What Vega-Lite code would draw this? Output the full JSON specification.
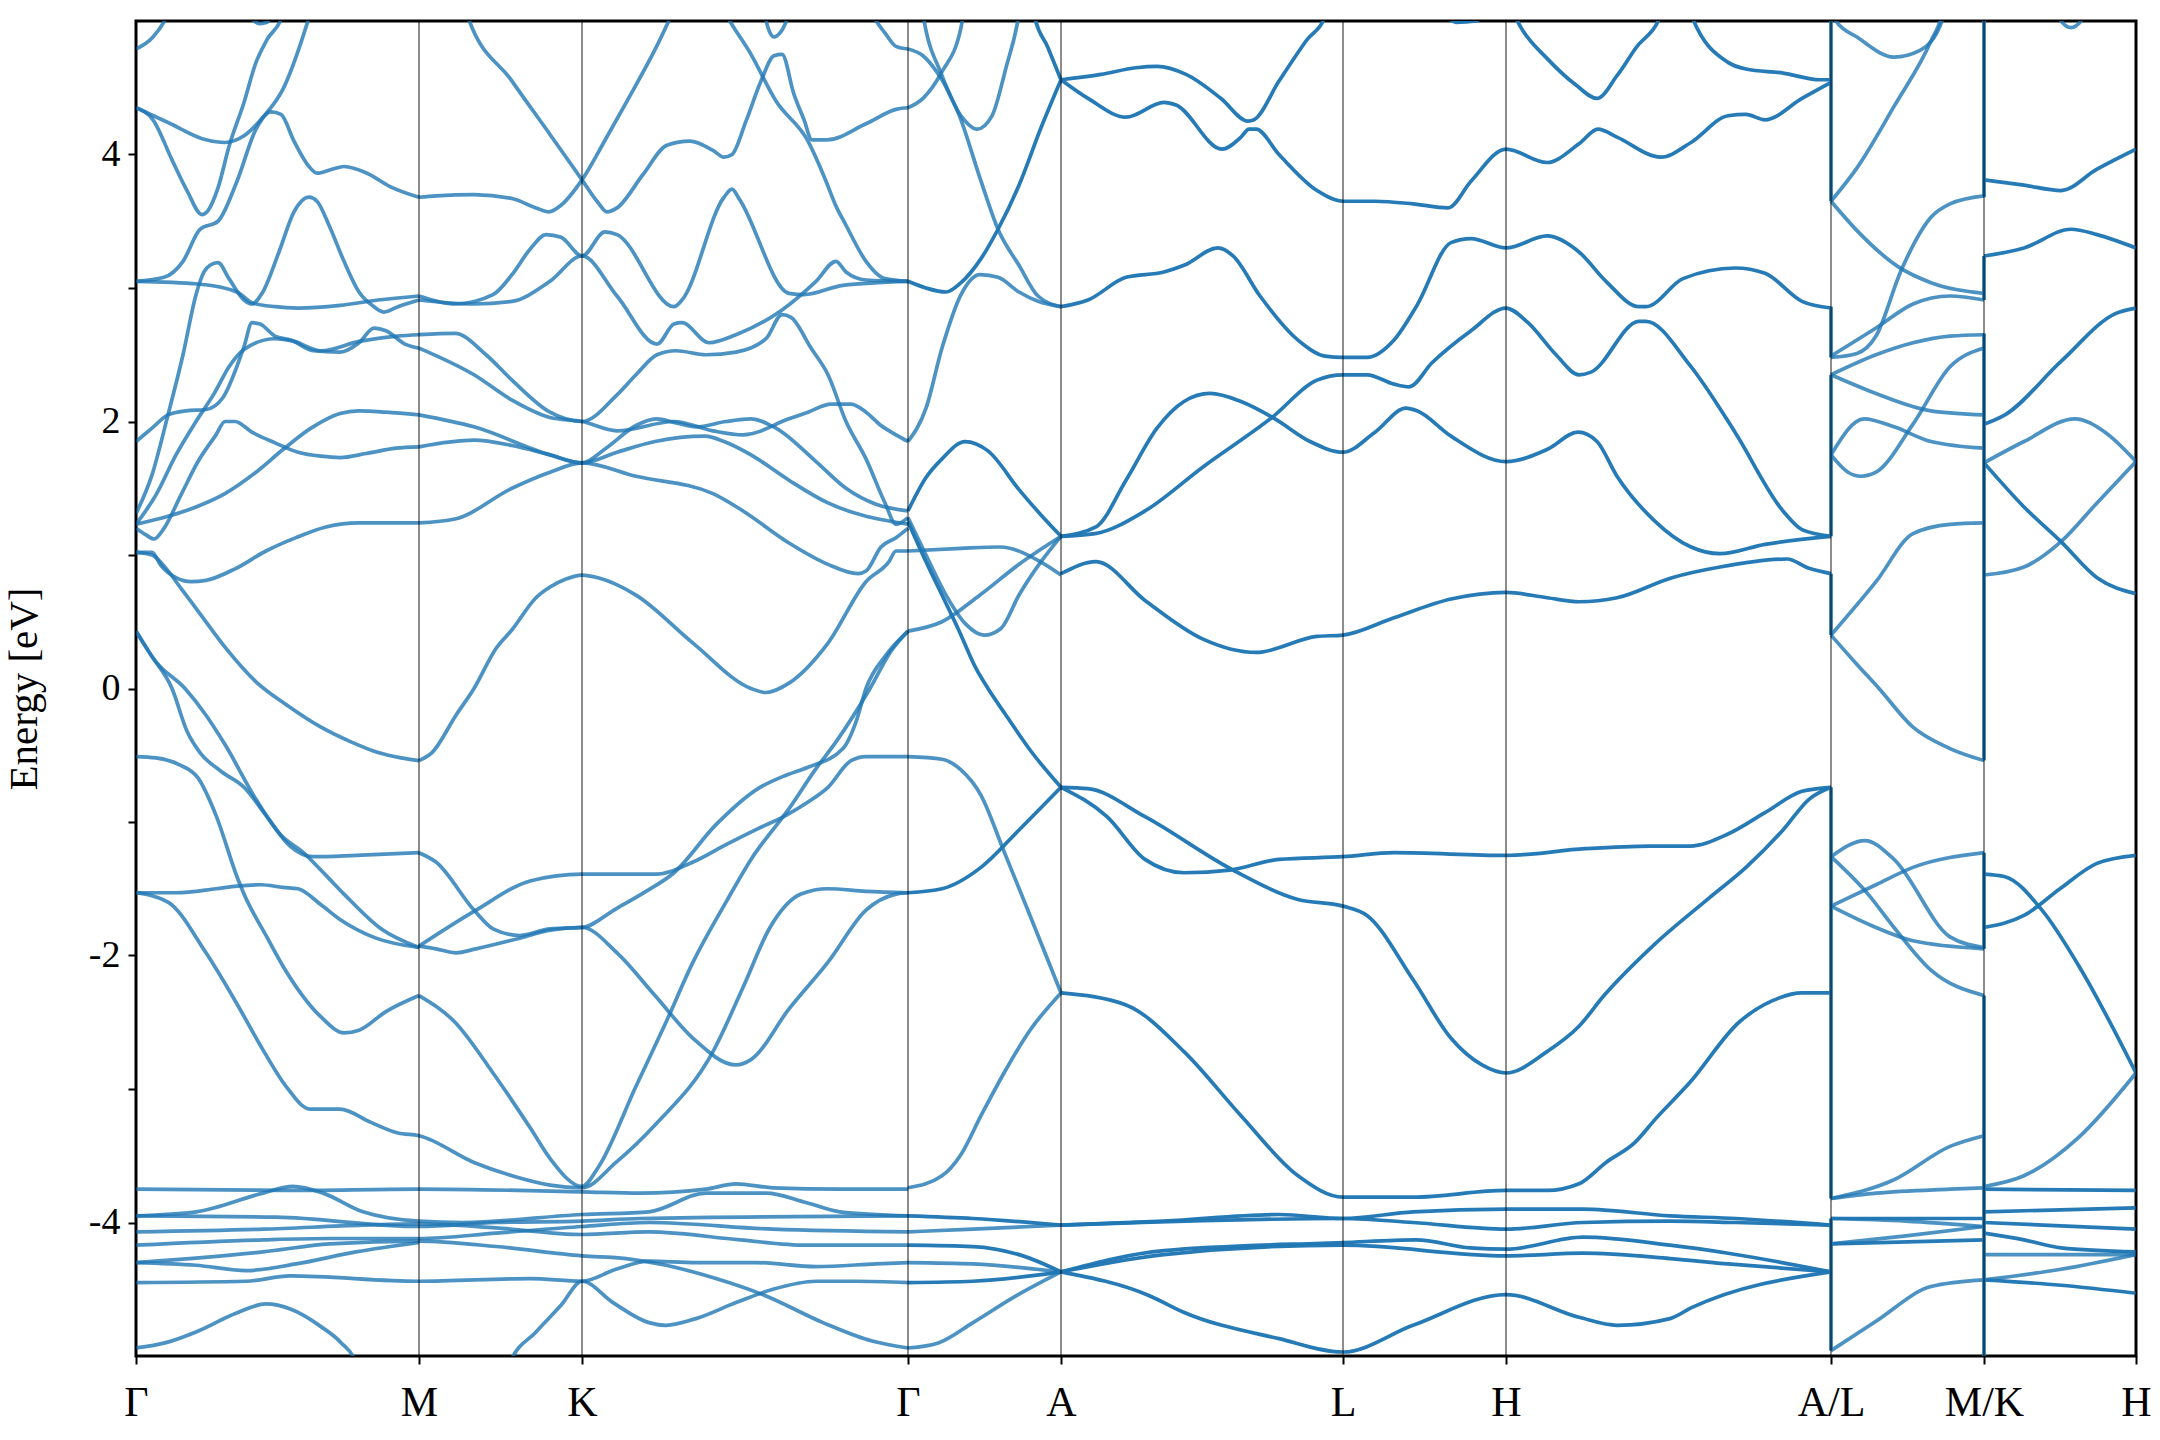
{
"$schema":"https://vega.github.io/schema/vega-lite/v6.json",
"width":2000,"height":1335,
"autosize":{"type":"none"},
"padding":{"left":136,"top":21,"right":24,"bottom":84},
"config":{"view":{"stroke":"black","strokeWidth":3},"font":"Liberation Serif"},
"datasets":{
"kp":[{"x":0},{"x":283},{"x":446},{"x":772},{"x":925},{"x":1207},{"x":1370},{"x":1695},{"x":1848},{"x":2000}],
"jumps":[
{"x":1695,"y":5.2,"y2":3.65},{"x":1695,"y":2.86,"y2":2.48},{"x":1695,"y":2.35,"y2":1.14},{"x":1695,"y":0.86,"y2":0.40},{"x":1695,"y":-0.74,"y2":-3.82},{"x":1695,"y":-3.97,"y2":-4.96},
{"x":1848,"y":5.2,"y2":3.68},{"x":1848,"y":3.24,"y2":2.91},{"x":1848,"y":2.66,"y2":-0.54},{"x":1848,"y":-1.23,"y2":-1.95},{"x":1848,"y":-2.30,"y2":-5.2}],
"bands":[
{"s":"a1","d":1,"x":0,"y":4.79},{"s":"a1","d":1,"x":17,"y":4.88},{"s":"a1","d":1,"x":32,"y":5.05},{"s":"a1","d":1,"x":40,"y":5.2},
{"s":"a2","d":1,"x":0,"y":4.35},{"s":"a2","d":1,"x":17,"y":4.26},{"s":"a2","d":1,"x":36,"y":3.96},{"s":"a2","d":1,"x":51,"y":3.73},{"s":"a2","d":1,"x":66,"y":3.55},{"s":"a2","d":1,"x":72,"y":3.58},{"s":"a2","d":1,"x":82,"y":3.75},{"s":"a2","d":1,"x":93,"y":4.06},{"s":"a2","d":1,"x":108,"y":4.39},{"s":"a2","d":1,"x":120,"y":4.69},{"s":"a2","d":1,"x":131,"y":4.86},{"s":"a2","d":1,"x":147,"y":5.05},{"s":"a2","d":1,"x":152,"y":5.2},
{"s":"a3","d":1,"x":0,"y":4.35},{"s":"a3","d":1,"x":32,"y":4.24},{"s":"a3","d":1,"x":70,"y":4.11},{"s":"a3","d":1,"x":89,"y":4.09},{"s":"a3","d":1,"x":108,"y":4.14},{"s":"a3","d":1,"x":127,"y":4.28},{"s":"a3","d":1,"x":147,"y":4.49},{"s":"a3","d":1,"x":174,"y":5.05},{"s":"a3","d":1,"x":180,"y":5.2},
{"s":"a4","d":1,"x":100,"y":5.2},{"s":"a4","d":1,"x":115,"y":5.02},{"s":"a4","d":1,"x":124,"y":4.98},{"s":"a4","d":1,"x":131,"y":4.99},{"s":"a4","d":1,"x":140,"y":5.2},
{"s":"a5","d":1,"x":0,"y":3.05},{"s":"a5","d":1,"x":28,"y":3.08},{"s":"a5","d":1,"x":47,"y":3.2},{"s":"a5","d":1,"x":64,"y":3.44},{"s":"a5","d":1,"x":82,"y":3.5},{"s":"a5","d":1,"x":101,"y":3.8},{"s":"a5","d":1,"x":120,"y":4.19},{"s":"a5","d":1,"x":135,"y":4.32},{"s":"a5","d":1,"x":145,"y":4.3},{"s":"a5","d":1,"x":158,"y":4.1},{"s":"a5","d":1,"x":173,"y":3.91},{"s":"a5","d":1,"x":181,"y":3.86},{"s":"a5","d":1,"x":196,"y":3.89},{"s":"a5","d":1,"x":208,"y":3.91},{"s":"a5","d":1,"x":231,"y":3.86},{"s":"a5","d":1,"x":254,"y":3.76},{"s":"a5","d":1,"x":283,"y":3.68},
{"s":"a6","d":1,"x":0,"y":3.05},{"s":"a6","d":1,"x":62,"y":3.03},{"s":"a6","d":1,"x":101,"y":2.97},{"s":"a6","d":1,"x":116,"y":2.89},{"s":"a6","d":1,"x":139,"y":2.86},{"s":"a6","d":1,"x":162,"y":2.85},{"s":"a6","d":1,"x":204,"y":2.87},{"s":"a6","d":1,"x":242,"y":2.91},{"s":"a6","d":1,"x":283,"y":2.94},
{"s":"a7","d":1,"x":0,"y":1.31},{"s":"a7","d":1,"x":16,"y":1.6},{"s":"a7","d":1,"x":32,"y":2.05},{"s":"a7","d":1,"x":47,"y":2.5},{"s":"a7","d":1,"x":60,"y":2.95},{"s":"a7","d":1,"x":68,"y":3.12},{"s":"a7","d":1,"x":74,"y":3.17},{"s":"a7","d":1,"x":82,"y":3.19},{"s":"a7","d":1,"x":93,"y":3.07},{"s":"a7","d":1,"x":108,"y":2.91},{"s":"a7","d":1,"x":116,"y":2.88},{"s":"a7","d":1,"x":126,"y":2.96},{"s":"a7","d":1,"x":143,"y":3.27},{"s":"a7","d":1,"x":158,"y":3.57},{"s":"a7","d":1,"x":173,"y":3.68},{"s":"a7","d":1,"x":181,"y":3.65},{"s":"a7","d":1,"x":193,"y":3.47},{"s":"a7","d":1,"x":208,"y":3.2},{"s":"a7","d":1,"x":223,"y":2.97},{"s":"a7","d":1,"x":238,"y":2.86},{"s":"a7","d":1,"x":248,"y":2.82},{"s":"a7","d":1,"x":262,"y":2.86},{"s":"a7","d":1,"x":283,"y":2.91},
{"s":"a8","d":1,"x":0,"y":1.85},{"s":"a8","d":1,"x":16,"y":1.95},{"s":"a8","d":1,"x":32,"y":2.05},{"s":"a8","d":1,"x":50,"y":2.08},{"s":"a8","d":1,"x":70,"y":2.09},{"s":"a8","d":1,"x":87,"y":2.18},{"s":"a8","d":1,"x":108,"y":2.56},{"s":"a8","d":1,"x":116,"y":2.74},{"s":"a8","d":1,"x":124,"y":2.73},{"s":"a8","d":1,"x":139,"y":2.64},{"s":"a8","d":1,"x":155,"y":2.61},{"s":"a8","d":1,"x":177,"y":2.53},{"s":"a8","d":1,"x":204,"y":2.52},{"s":"a8","d":1,"x":223,"y":2.59},{"s":"a8","d":1,"x":238,"y":2.7},{"s":"a8","d":1,"x":250,"y":2.68},{"s":"a8","d":1,"x":269,"y":2.58},{"s":"a8","d":1,"x":283,"y":2.55},
{"s":"a9","d":1,"x":0,"y":1.23},{"s":"a9","d":1,"x":20,"y":1.45},{"s":"a9","d":1,"x":40,"y":1.75},{"s":"a9","d":1,"x":60,"y":2.0},{"s":"a9","d":1,"x":79,"y":2.22},{"s":"a9","d":1,"x":93,"y":2.41},{"s":"a9","d":1,"x":108,"y":2.54},{"s":"a9","d":1,"x":139,"y":2.62},{"s":"a9","d":1,"x":158,"y":2.6},{"s":"a9","d":1,"x":185,"y":2.53},{"s":"a9","d":1,"x":223,"y":2.6},{"s":"a9","d":1,"x":261,"y":2.64},{"s":"a9","d":1,"x":283,"y":2.65},
{"s":"a10","d":1,"x":0,"y":1.23},{"s":"a10","d":1,"x":32,"y":1.29},{"s":"a10","d":1,"x":60,"y":1.36},{"s":"a10","d":1,"x":89,"y":1.46},{"s":"a10","d":1,"x":120,"y":1.62},{"s":"a10","d":1,"x":147,"y":1.79},{"s":"a10","d":1,"x":175,"y":1.95},{"s":"a10","d":1,"x":204,"y":2.06},{"s":"a10","d":1,"x":223,"y":2.08},{"s":"a10","d":1,"x":250,"y":2.07},{"s":"a10","d":1,"x":283,"y":2.05},
{"s":"a11","d":1,"x":0,"y":1.2},{"s":"a11","d":1,"x":10,"y":1.15},{"s":"a11","d":1,"x":18,"y":1.12},{"s":"a11","d":1,"x":28,"y":1.2},{"s":"a11","d":1,"x":45,"y":1.45},{"s":"a11","d":1,"x":62,"y":1.7},{"s":"a11","d":1,"x":80,"y":1.9},{"s":"a11","d":1,"x":89,"y":2.0},{"s":"a11","d":1,"x":99,"y":2.0},{"s":"a11","d":1,"x":116,"y":1.92},{"s":"a11","d":1,"x":139,"y":1.84},{"s":"a11","d":1,"x":162,"y":1.77},{"s":"a11","d":1,"x":185,"y":1.74},{"s":"a11","d":1,"x":204,"y":1.73},{"s":"a11","d":1,"x":230,"y":1.76},{"s":"a11","d":1,"x":260,"y":1.8},{"s":"a11","d":1,"x":283,"y":1.81},
{"s":"a12","d":1,"x":0,"y":1.02},{"s":"a12","d":1,"x":16,"y":1.02},{"s":"a12","d":1,"x":25,"y":0.92},{"s":"a12","d":1,"x":40,"y":0.83},{"s":"a12","d":1,"x":55,"y":0.8},{"s":"a12","d":1,"x":70,"y":0.81},{"s":"a12","d":1,"x":100,"y":0.9},{"s":"a12","d":1,"x":130,"y":1.03},{"s":"a12","d":1,"x":160,"y":1.13},{"s":"a12","d":1,"x":190,"y":1.21},{"s":"a12","d":1,"x":223,"y":1.24},{"s":"a12","d":1,"x":283,"y":1.24},
{"s":"a13","d":1,"x":0,"y":1.02},{"s":"a13","d":1,"x":16,"y":1.0},{"s":"a13","d":1,"x":30,"y":0.9},{"s":"a13","d":1,"x":45,"y":0.75},{"s":"a13","d":1,"x":65,"y":0.55},{"s":"a13","d":1,"x":90,"y":0.3},{"s":"a13","d":1,"x":120,"y":0.05},{"s":"a13","d":1,"x":150,"y":-0.12},{"s":"a13","d":1,"x":185,"y":-0.29},{"s":"a13","d":1,"x":215,"y":-0.4},{"s":"a13","d":1,"x":242,"y":-0.48},{"s":"a13","d":1,"x":265,"y":-0.52},{"s":"a13","d":1,"x":283,"y":-0.54},
{"s":"a14","d":1,"x":0,"y":0.43},{"s":"a14","d":1,"x":15,"y":0.25},{"s":"a14","d":1,"x":36,"y":0.0},{"s":"a14","d":1,"x":51,"y":-0.32},{"s":"a14","d":1,"x":64,"y":-0.48},{"s":"a14","d":1,"x":85,"y":-0.62},{"s":"a14","d":1,"x":108,"y":-0.74},{"s":"a14","d":1,"x":130,"y":-0.95},{"s":"a14","d":1,"x":154,"y":-1.18},{"s":"a14","d":1,"x":177,"y":-1.26},{"s":"a14","d":1,"x":220,"y":-1.25},{"s":"a14","d":1,"x":283,"y":-1.23},
{"s":"a15","d":1,"x":0,"y":0.43},{"s":"a15","d":1,"x":20,"y":0.2},{"s":"a15","d":1,"x":49,"y":0.0},{"s":"a15","d":1,"x":70,"y":-0.2},{"s":"a15","d":1,"x":89,"y":-0.42},{"s":"a15","d":1,"x":120,"y":-0.83},{"s":"a15","d":1,"x":145,"y":-1.1},{"s":"a15","d":1,"x":166,"y":-1.22},{"s":"a15","d":1,"x":190,"y":-1.4},{"s":"a15","d":1,"x":208,"y":-1.54},{"s":"a15","d":1,"x":245,"y":-1.8},{"s":"a15","d":1,"x":283,"y":-1.94},
{"s":"a16","d":1,"x":0,"y":-0.51},{"s":"a16","d":1,"x":20,"y":-0.52},{"s":"a16","d":1,"x":43,"y":-0.57},{"s":"a16","d":1,"x":62,"y":-0.67},{"s":"a16","d":1,"x":80,"y":-0.95},{"s":"a16","d":1,"x":101,"y":-1.41},{"s":"a16","d":1,"x":108,"y":-1.54},{"s":"a16","d":1,"x":130,"y":-1.85},{"s":"a16","d":1,"x":147,"y":-2.08},{"s":"a16","d":1,"x":185,"y":-2.46},{"s":"a16","d":1,"x":208,"y":-2.58},{"s":"a16","d":1,"x":223,"y":-2.56},{"s":"a16","d":1,"x":250,"y":-2.42},{"s":"a16","d":1,"x":283,"y":-2.3},
{"s":"a17","d":1,"x":0,"y":-1.53},{"s":"a17","d":1,"x":40,"y":-1.53},{"s":"a17","d":1,"x":80,"y":-1.5},{"s":"a17","d":1,"x":101,"y":-1.48},{"s":"a17","d":1,"x":125,"y":-1.47},{"s":"a17","d":1,"x":147,"y":-1.49},{"s":"a17","d":1,"x":162,"y":-1.5},{"s":"a17","d":1,"x":185,"y":-1.62},{"s":"a17","d":1,"x":204,"y":-1.73},{"s":"a17","d":1,"x":240,"y":-1.87},{"s":"a17","d":1,"x":283,"y":-1.94},
{"s":"a18","d":1,"x":0,"y":-1.53},{"s":"a18","d":1,"x":32,"y":-1.6},{"s":"a18","d":1,"x":70,"y":-1.98},{"s":"a18","d":1,"x":100,"y":-2.35},{"s":"a18","d":1,"x":128,"y":-2.72},{"s":"a18","d":1,"x":150,"y":-2.98},{"s":"a18","d":1,"x":174,"y":-3.15},{"s":"a18","d":1,"x":204,"y":-3.15},{"s":"a18","d":1,"x":235,"y":-3.25},{"s":"a18","d":1,"x":262,"y":-3.33},{"s":"a18","d":1,"x":283,"y":-3.35},{"s":"a18","d":1,"x":338,"y":-3.55},{"s":"a18","d":1,"x":376,"y":-3.65},{"s":"a18","d":1,"x":414,"y":-3.72},{"s":"a18","d":1,"x":446,"y":-3.74},{"s":"a18","d":1,"x":480,"y":-3.55},{"s":"a18","d":1,"x":519,"y":-3.27},{"s":"a18","d":1,"x":577,"y":-2.72},{"s":"a18","d":1,"x":607,"y":-2.24},{"s":"a18","d":1,"x":634,"y":-1.79},{"s":"a18","d":1,"x":665,"y":-1.54},{"s":"a18","d":1,"x":692,"y":-1.5},{"s":"a18","d":1,"x":730,"y":-1.52},{"s":"a18","d":1,"x":772,"y":-1.53},
{"s":"a19","d":1,"x":0,"y":-3.75},{"s":"a19","d":1,"x":150,"y":-3.76},{"s":"a19","d":1,"x":283,"y":-3.75},{"s":"a19","d":1,"x":446,"y":-3.77},{"s":"a19","d":1,"x":504,"y":-3.78},{"s":"a19","d":1,"x":570,"y":-3.75},{"s":"a19","d":1,"x":600,"y":-3.71},{"s":"a19","d":1,"x":637,"y":-3.74},{"s":"a19","d":1,"x":704,"y":-3.75},{"s":"a19","d":1,"x":772,"y":-3.75},
{"s":"a20","d":1,"x":0,"y":-3.95},{"s":"a20","d":1,"x":60,"y":-3.92},{"s":"a20","d":1,"x":127,"y":-3.78},{"s":"a20","d":1,"x":157,"y":-3.73},{"s":"a20","d":1,"x":187,"y":-3.78},{"s":"a20","d":1,"x":227,"y":-3.92},{"s":"a20","d":1,"x":283,"y":-3.99},{"s":"a20","d":1,"x":327,"y":-4.0},{"s":"a20","d":1,"x":446,"y":-3.94},{"s":"a20","d":1,"x":513,"y":-3.92},{"s":"a20","d":1,"x":570,"y":-3.78},{"s":"a20","d":1,"x":630,"y":-3.78},{"s":"a20","d":1,"x":670,"y":-3.85},{"s":"a20","d":1,"x":704,"y":-3.92},{"s":"a20","d":1,"x":772,"y":-3.95},
{"s":"a21","d":1,"x":0,"y":-3.95},{"s":"a21","d":1,"x":140,"y":-3.96},{"s":"a21","d":1,"x":283,"y":-4.03},{"s":"a21","d":1,"x":360,"y":-4.0},{"s":"a21","d":1,"x":446,"y":-3.99},{"s":"a21","d":1,"x":504,"y":-3.97},{"s":"a21","d":1,"x":772,"y":-3.95},
{"s":"a22","d":1,"x":0,"y":-4.07},{"s":"a22","d":1,"x":127,"y":-4.05},{"s":"a22","d":1,"x":227,"y":-4.02},{"s":"a22","d":1,"x":283,"y":-4.01},{"s":"a22","d":1,"x":360,"y":-4.04},{"s":"a22","d":1,"x":446,"y":-4.09},{"s":"a22","d":1,"x":513,"y":-4.07},{"s":"a22","d":1,"x":604,"y":-4.13},{"s":"a22","d":1,"x":670,"y":-4.17},{"s":"a22","d":1,"x":772,"y":-4.17},
{"s":"a23","d":1,"x":0,"y":-4.17},{"s":"a23","d":1,"x":127,"y":-4.13},{"s":"a23","d":1,"x":194,"y":-4.12},{"s":"a23","d":1,"x":283,"y":-4.12},{"s":"a23","d":1,"x":360,"y":-4.08},{"s":"a23","d":1,"x":446,"y":-4.03},{"s":"a23","d":1,"x":513,"y":-4.0},{"s":"a23","d":1,"x":637,"y":-4.05},{"s":"a23","d":1,"x":772,"y":-4.07},
{"s":"a24","d":1,"x":0,"y":-4.3},{"s":"a24","d":1,"x":127,"y":-4.22},{"s":"a24","d":1,"x":194,"y":-4.16},{"s":"a24","d":1,"x":283,"y":-4.14},{"s":"a24","d":1,"x":360,"y":-4.18},{"s":"a24","d":1,"x":446,"y":-4.25},{"s":"a24","d":1,"x":490,"y":-4.27},{"s":"a24","d":1,"x":530,"y":-4.32},{"s":"a24","d":1,"x":580,"y":-4.42},{"s":"a24","d":1,"x":630,"y":-4.55},{"s":"a24","d":1,"x":687,"y":-4.75},{"s":"a24","d":1,"x":737,"y":-4.89},{"s":"a24","d":1,"x":772,"y":-4.94},
{"s":"a25","d":1,"x":0,"y":-4.3},{"s":"a25","d":1,"x":60,"y":-4.32},{"s":"a25","d":1,"x":110,"y":-4.36},{"s":"a25","d":1,"x":160,"y":-4.31},{"s":"a25","d":1,"x":220,"y":-4.22},{"s":"a25","d":1,"x":283,"y":-4.15},
{"s":"a26","d":1,"x":0,"y":-4.45},{"s":"a26","d":1,"x":110,"y":-4.44},{"s":"a26","d":1,"x":154,"y":-4.4},{"s":"a26","d":1,"x":283,"y":-4.44},{"s":"a26","d":1,"x":394,"y":-4.42},{"s":"a26","d":1,"x":446,"y":-4.44},{"s":"a26","d":1,"x":480,"y":-4.35},{"s":"a26","d":1,"x":513,"y":-4.29},{"s":"a26","d":1,"x":560,"y":-4.3},{"s":"a26","d":1,"x":620,"y":-4.3},{"s":"a26","d":1,"x":680,"y":-4.33},{"s":"a26","d":1,"x":740,"y":-4.31},{"s":"a26","d":1,"x":772,"y":-4.3},
{"s":"a27","d":1,"x":0,"y":-4.94},{"s":"a27","d":1,"x":30,"y":-4.9},{"s":"a27","d":1,"x":60,"y":-4.82},{"s":"a27","d":1,"x":100,"y":-4.68},{"s":"a27","d":1,"x":130,"y":-4.61},{"s":"a27","d":1,"x":155,"y":-4.65},{"s":"a27","d":1,"x":185,"y":-4.78},{"s":"a27","d":1,"x":205,"y":-4.9},{"s":"a27","d":1,"x":220,"y":-5.05},{"s":"a27","d":1,"x":225,"y":-5.2},
{"s":"a28","d":1,"x":370,"y":-5.2},{"s":"a28","d":1,"x":374,"y":-5.05},{"s":"a28","d":1,"x":400,"y":-4.82},{"s":"a28","d":1,"x":425,"y":-4.62},{"s":"a28","d":1,"x":446,"y":-4.44},{"s":"a28","d":1,"x":477,"y":-4.6},{"s":"a28","d":1,"x":513,"y":-4.75},{"s":"a28","d":1,"x":530,"y":-4.77},{"s":"a28","d":1,"x":560,"y":-4.72},{"s":"a28","d":1,"x":600,"y":-4.6},{"s":"a28","d":1,"x":637,"y":-4.5},{"s":"a28","d":1,"x":680,"y":-4.44},{"s":"a28","d":1,"x":720,"y":-4.44},{"s":"a28","d":1,"x":772,"y":-4.45},
{"s":"b1","d":1,"x":283,"y":3.68},{"s":"b1","d":1,"x":300,"y":3.69},{"s":"b1","d":1,"x":338,"y":3.7},{"s":"b1","d":1,"x":376,"y":3.67},{"s":"b1","d":1,"x":400,"y":3.6},{"s":"b1","d":1,"x":413,"y":3.57},{"s":"b1","d":1,"x":425,"y":3.62},{"s":"b1","d":1,"x":446,"y":3.81},{"s":"b1","d":1,"x":470,"y":4.12},{"s":"b1","d":1,"x":491,"y":4.4},{"s":"b1","d":1,"x":520,"y":4.8},{"s":"b1","d":1,"x":545,"y":5.2},
{"s":"b2","d":1,"x":325,"y":5.2},{"s":"b2","d":1,"x":331,"y":5.05},{"s":"b2","d":1,"x":376,"y":4.55},{"s":"b2","d":1,"x":414,"y":4.15},{"s":"b2","d":1,"x":446,"y":3.81},{"s":"b2","d":1,"x":462,"y":3.64},{"s":"b2","d":1,"x":471,"y":3.57},{"s":"b2","d":1,"x":481,"y":3.6},{"s":"b2","d":1,"x":507,"y":3.85},{"s":"b2","d":1,"x":531,"y":4.07},{"s":"b2","d":1,"x":554,"y":4.1},{"s":"b2","d":1,"x":577,"y":4.03},{"s":"b2","d":1,"x":588,"y":3.98},{"s":"b2","d":1,"x":596,"y":4.0},{"s":"b2","d":1,"x":610,"y":4.25},{"s":"b2","d":1,"x":625,"y":4.55},{"s":"b2","d":1,"x":638,"y":4.74},{"s":"b2","d":1,"x":646,"y":4.75},{"s":"b2","d":1,"x":658,"y":4.45},{"s":"b2","d":1,"x":668,"y":4.26},{"s":"b2","d":1,"x":676,"y":4.11},{"s":"b2","d":1,"x":691,"y":4.11},{"s":"b2","d":1,"x":730,"y":4.23},{"s":"b2","d":1,"x":761,"y":4.34},{"s":"b2","d":1,"x":772,"y":4.35},
{"s":"b3","d":1,"x":283,"y":2.94},{"s":"b3","d":1,"x":319,"y":2.88},{"s":"b3","d":1,"x":357,"y":2.95},{"s":"b3","d":1,"x":376,"y":3.1},{"s":"b3","d":1,"x":395,"y":3.3},{"s":"b3","d":1,"x":410,"y":3.4},{"s":"b3","d":1,"x":425,"y":3.38},{"s":"b3","d":1,"x":446,"y":3.24},{"s":"b3","d":1,"x":469,"y":3.42},{"s":"b3","d":1,"x":481,"y":3.4},{"s":"b3","d":1,"x":538,"y":2.86},{"s":"b3","d":1,"x":546,"y":2.91},{"s":"b3","d":1,"x":588,"y":3.68},{"s":"b3","d":1,"x":596,"y":3.74},{"s":"b3","d":1,"x":603,"y":3.67},{"s":"b3","d":1,"x":653,"y":2.96},{"s":"b3","d":1,"x":668,"y":2.95},{"s":"b3","d":1,"x":707,"y":3.02},{"s":"b3","d":1,"x":772,"y":3.05},
{"s":"b4","d":1,"x":283,"y":2.91},{"s":"b4","d":1,"x":338,"y":2.88},{"s":"b4","d":1,"x":376,"y":2.9},{"s":"b4","d":1,"x":414,"y":3.05},{"s":"b4","d":1,"x":446,"y":3.24},{"s":"b4","d":1,"x":481,"y":2.94},{"s":"b4","d":1,"x":521,"y":2.58},{"s":"b4","d":1,"x":538,"y":2.73},{"s":"b4","d":1,"x":546,"y":2.74},{"s":"b4","d":1,"x":573,"y":2.59},{"s":"b4","d":1,"x":600,"y":2.65},{"s":"b4","d":1,"x":645,"y":2.83},{"s":"b4","d":1,"x":680,"y":3.05},{"s":"b4","d":1,"x":700,"y":3.2},{"s":"b4","d":1,"x":710,"y":3.12},{"s":"b4","d":1,"x":730,"y":3.06},{"s":"b4","d":1,"x":772,"y":3.05},
{"s":"b5","d":1,"x":283,"y":2.65},{"s":"b5","d":1,"x":319,"y":2.66},{"s":"b5","d":1,"x":350,"y":2.5},{"s":"b5","d":1,"x":376,"y":2.31},{"s":"b5","d":1,"x":414,"y":2.07},{"s":"b5","d":1,"x":446,"y":2.0},{"s":"b5","d":1,"x":481,"y":2.2},{"s":"b5","d":1,"x":500,"y":2.35},{"s":"b5","d":1,"x":521,"y":2.5},{"s":"b5","d":1,"x":540,"y":2.53},{"s":"b5","d":1,"x":570,"y":2.5},{"s":"b5","d":1,"x":600,"y":2.52},{"s":"b5","d":1,"x":630,"y":2.62},{"s":"b5","d":1,"x":646,"y":2.8},{"s":"b5","d":1,"x":655,"y":2.78},{"s":"b5","d":1,"x":675,"y":2.55},{"s":"b5","d":1,"x":692,"y":2.35},{"s":"b5","d":1,"x":710,"y":2.0},{"s":"b5","d":1,"x":730,"y":1.72},{"s":"b5","d":1,"x":749,"y":1.39},{"s":"b5","d":1,"x":760,"y":1.23},{"s":"b5","d":1,"x":772,"y":1.28},
{"s":"b6","d":1,"x":283,"y":2.55},{"s":"b6","d":1,"x":338,"y":2.35},{"s":"b6","d":1,"x":376,"y":2.16},{"s":"b6","d":1,"x":414,"y":2.03},{"s":"b6","d":1,"x":446,"y":2.0},{"s":"b6","d":1,"x":481,"y":1.93},{"s":"b6","d":1,"x":538,"y":2.0},{"s":"b6","d":1,"x":577,"y":1.93},{"s":"b6","d":1,"x":607,"y":1.9},{"s":"b6","d":1,"x":653,"y":2.02},{"s":"b6","d":1,"x":672,"y":2.07},{"s":"b6","d":1,"x":695,"y":2.13},{"s":"b6","d":1,"x":715,"y":2.13},{"s":"b6","d":1,"x":730,"y":2.07},{"s":"b6","d":1,"x":745,"y":1.97},{"s":"b6","d":1,"x":760,"y":1.9},{"s":"b6","d":1,"x":772,"y":1.85},
{"s":"b7","d":1,"x":283,"y":2.05},{"s":"b7","d":1,"x":338,"y":1.96},{"s":"b7","d":1,"x":414,"y":1.75},{"s":"b7","d":1,"x":446,"y":1.69},{"s":"b7","d":1,"x":470,"y":1.8},{"s":"b7","d":1,"x":500,"y":1.97},{"s":"b7","d":1,"x":520,"y":2.02},{"s":"b7","d":1,"x":540,"y":1.99},{"s":"b7","d":1,"x":560,"y":1.96},{"s":"b7","d":1,"x":590,"y":2.0},{"s":"b7","d":1,"x":615,"y":2.02},{"s":"b7","d":1,"x":640,"y":1.95},{"s":"b7","d":1,"x":680,"y":1.7},{"s":"b7","d":1,"x":710,"y":1.5},{"s":"b7","d":1,"x":740,"y":1.38},{"s":"b7","d":1,"x":772,"y":1.33},
{"s":"b8","d":1,"x":283,"y":1.81},{"s":"b8","d":1,"x":338,"y":1.86},{"s":"b8","d":1,"x":376,"y":1.82},{"s":"b8","d":1,"x":414,"y":1.75},{"s":"b8","d":1,"x":446,"y":1.69},{"s":"b8","d":1,"x":481,"y":1.77},{"s":"b8","d":1,"x":519,"y":1.85},{"s":"b8","d":1,"x":569,"y":1.89},{"s":"b8","d":1,"x":588,"y":1.85},{"s":"b8","d":1,"x":615,"y":1.75},{"s":"b8","d":1,"x":653,"y":1.56},{"s":"b8","d":1,"x":692,"y":1.39},{"s":"b8","d":1,"x":730,"y":1.29},{"s":"b8","d":1,"x":749,"y":1.26},{"s":"b8","d":1,"x":772,"y":1.23},
{"s":"b9","d":1,"x":283,"y":1.24},{"s":"b9","d":1,"x":319,"y":1.27},{"s":"b9","d":1,"x":376,"y":1.5},{"s":"b9","d":1,"x":414,"y":1.62},{"s":"b9","d":1,"x":446,"y":1.69},{"s":"b9","d":1,"x":500,"y":1.59},{"s":"b9","d":1,"x":577,"y":1.46},{"s":"b9","d":1,"x":607,"y":1.33},{"s":"b9","d":1,"x":653,"y":1.09},{"s":"b9","d":1,"x":692,"y":0.93},{"s":"b9","d":1,"x":722,"y":0.86},{"s":"b9","d":1,"x":730,"y":0.88},{"s":"b9","d":1,"x":745,"y":1.06},{"s":"b9","d":1,"x":760,"y":1.13},{"s":"b9","d":1,"x":772,"y":1.2},
{"s":"b10","d":1,"x":283,"y":-0.54},{"s":"b10","d":1,"x":296,"y":-0.48},{"s":"b10","d":1,"x":320,"y":-0.2},{"s":"b10","d":1,"x":338,"y":0.0},{"s":"b10","d":1,"x":360,"y":0.3},{"s":"b10","d":1,"x":376,"y":0.44},{"s":"b10","d":1,"x":400,"y":0.68},{"s":"b10","d":1,"x":414,"y":0.76},{"s":"b10","d":1,"x":430,"y":0.82},{"s":"b10","d":1,"x":446,"y":0.85},{"s":"b10","d":1,"x":462,"y":0.83},{"s":"b10","d":1,"x":500,"y":0.7},{"s":"b10","d":1,"x":557,"y":0.34},{"s":"b10","d":1,"x":615,"y":0.0},{"s":"b10","d":1,"x":630,"y":-0.03},{"s":"b10","d":1,"x":653,"y":0.04},{"s":"b10","d":1,"x":692,"y":0.34},{"s":"b10","d":1,"x":730,"y":0.8},{"s":"b10","d":1,"x":753,"y":0.95},{"s":"b10","d":1,"x":760,"y":1.03},{"s":"b10","d":1,"x":772,"y":1.03},
{"s":"b11","d":1,"x":283,"y":-1.23},{"s":"b11","d":1,"x":300,"y":-1.3},{"s":"b11","d":1,"x":338,"y":-1.66},{"s":"b11","d":1,"x":357,"y":-1.8},{"s":"b11","d":1,"x":384,"y":-1.85},{"s":"b11","d":1,"x":414,"y":-1.8},{"s":"b11","d":1,"x":446,"y":-1.79},{"s":"b11","d":1,"x":480,"y":-1.65},{"s":"b11","d":1,"x":510,"y":-1.52},{"s":"b11","d":1,"x":538,"y":-1.38},{"s":"b11","d":1,"x":580,"y":-1.02},{"s":"b11","d":1,"x":622,"y":-0.75},{"s":"b11","d":1,"x":650,"y":-0.65},{"s":"b11","d":1,"x":672,"y":-0.59},{"s":"b11","d":1,"x":707,"y":-0.45},{"s":"b11","d":1,"x":720,"y":-0.25},{"s":"b11","d":1,"x":730,"y":0.0},{"s":"b11","d":1,"x":750,"y":0.25},{"s":"b11","d":1,"x":772,"y":0.43},
{"s":"b12","d":1,"x":283,"y":-1.93},{"s":"b12","d":1,"x":300,"y":-1.95},{"s":"b12","d":1,"x":320,"y":-1.98},{"s":"b12","d":1,"x":340,"y":-1.95},{"s":"b12","d":1,"x":384,"y":-1.87},{"s":"b12","d":1,"x":414,"y":-1.81},{"s":"b12","d":1,"x":446,"y":-1.79},{"s":"b12","d":1,"x":481,"y":-1.98},{"s":"b12","d":1,"x":519,"y":-2.3},{"s":"b12","d":1,"x":557,"y":-2.62},{"s":"b12","d":1,"x":600,"y":-2.82},{"s":"b12","d":1,"x":615,"y":-2.78},{"s":"b12","d":1,"x":653,"y":-2.4},{"s":"b12","d":1,"x":692,"y":-2.05},{"s":"b12","d":1,"x":730,"y":-1.66},{"s":"b12","d":1,"x":760,"y":-1.54},{"s":"b12","d":1,"x":772,"y":-1.53},
{"s":"b13","d":1,"x":283,"y":-1.93},{"s":"b13","d":1,"x":338,"y":-1.67},{"s":"b13","d":1,"x":395,"y":-1.44},{"s":"b13","d":1,"x":446,"y":-1.39},{"s":"b13","d":1,"x":481,"y":-1.39},{"s":"b13","d":1,"x":520,"y":-1.39},{"s":"b13","d":1,"x":557,"y":-1.3},{"s":"b13","d":1,"x":590,"y":-1.17},{"s":"b13","d":1,"x":622,"y":-1.05},{"s":"b13","d":1,"x":650,"y":-0.95},{"s":"b13","d":1,"x":672,"y":-0.85},{"s":"b13","d":1,"x":692,"y":-0.74},{"s":"b13","d":1,"x":715,"y":-0.54},{"s":"b13","d":1,"x":730,"y":-0.51},{"s":"b13","d":1,"x":772,"y":-0.51},
{"s":"b14","d":1,"x":283,"y":-2.3},{"s":"b14","d":1,"x":319,"y":-2.5},{"s":"b14","d":1,"x":357,"y":-2.88},{"s":"b14","d":1,"x":395,"y":-3.3},{"s":"b14","d":1,"x":414,"y":-3.52},{"s":"b14","d":1,"x":446,"y":-3.73},{"s":"b14","d":1,"x":462,"y":-3.59},{"s":"b14","d":1,"x":500,"y":-2.98},{"s":"b14","d":1,"x":530,"y":-2.5},{"s":"b14","d":1,"x":557,"y":-2.05},{"s":"b14","d":1,"x":590,"y":-1.6},{"s":"b14","d":1,"x":615,"y":-1.28},{"s":"b14","d":1,"x":653,"y":-0.9},{"s":"b14","d":1,"x":680,"y":-0.6},{"s":"b14","d":1,"x":700,"y":-0.4},{"s":"b14","d":1,"x":734,"y":0.0},{"s":"b14","d":1,"x":755,"y":0.28},{"s":"b14","d":1,"x":772,"y":0.43},
{"s":"c1","d":1,"x":580,"y":5.2},{"s":"c1","d":1,"x":590,"y":5.05},{"s":"c1","d":1,"x":615,"y":4.75},{"s":"c1","d":1,"x":640,"y":4.4},{"s":"c1","d":1,"x":672,"y":4.1},{"s":"c1","d":1,"x":690,"y":3.8},{"s":"c1","d":1,"x":699,"y":3.63},{"s":"c1","d":1,"x":710,"y":3.47},{"s":"c1","d":1,"x":730,"y":3.2},{"s":"c1","d":1,"x":749,"y":3.07},{"s":"c1","d":1,"x":772,"y":3.05},
{"s":"c2","d":1,"x":625,"y":5.2},{"s":"c2","d":1,"x":632,"y":4.95},{"s":"c2","d":1,"x":638,"y":4.88},{"s":"c2","d":1,"x":645,"y":4.92},{"s":"c2","d":1,"x":660,"y":5.2},
{"s":"c3","d":1,"x":730,"y":5.2},{"s":"c3","d":1,"x":737,"y":5.05},{"s":"c3","d":1,"x":750,"y":4.9},{"s":"c3","d":1,"x":760,"y":4.81},{"s":"c3","d":1,"x":772,"y":4.79},
{"s":"e1","d":1,"x":772,"y":4.79},{"s":"e1","d":1,"x":787,"y":4.74},{"s":"e1","d":1,"x":806,"y":4.56},{"s":"e1","d":1,"x":825,"y":4.29},{"s":"e1","d":1,"x":841,"y":4.19},{"s":"e1","d":1,"x":856,"y":4.29},{"s":"e1","d":1,"x":870,"y":4.65},{"s":"e1","d":1,"x":883,"y":5.05},{"s":"e1","d":1,"x":886,"y":5.2},
{"s":"e2","d":1,"x":772,"y":4.35},{"s":"e2","d":1,"x":787,"y":4.42},{"s":"e2","d":1,"x":806,"y":4.62},{"s":"e2","d":1,"x":825,"y":4.95},{"s":"e2","d":1,"x":830,"y":5.2},
{"s":"e3","d":1,"x":784,"y":5.2},{"s":"e3","d":1,"x":787,"y":5.05},{"s":"e3","d":1,"x":806,"y":4.59},{"s":"e3","d":1,"x":825,"y":4.26},{"s":"e3","d":1,"x":845,"y":3.8},{"s":"e3","d":1,"x":862,"y":3.44},{"s":"e3","d":1,"x":883,"y":3.17},{"s":"e3","d":1,"x":902,"y":2.94},{"s":"e3","d":1,"x":925,"y":2.86},
{"s":"e4","d":2,"x":772,"y":3.05},{"s":"e4","d":2,"x":790,"y":3.0},{"s":"e4","d":2,"x":810,"y":2.97},{"s":"e4","d":2,"x":825,"y":3.04},{"s":"e4","d":2,"x":845,"y":3.22},{"s":"e4","d":2,"x":862,"y":3.44},{"s":"e4","d":2,"x":883,"y":3.77},{"s":"e4","d":2,"x":905,"y":4.2},{"s":"e4","d":2,"x":925,"y":4.56},
{"s":"e5","d":2,"x":895,"y":5.2},{"s":"e5","d":2,"x":898,"y":5.05},{"s":"e5","d":2,"x":912,"y":4.8},{"s":"e5","d":2,"x":925,"y":4.56},
{"s":"e6","d":1,"x":772,"y":1.85},{"s":"e6","d":1,"x":790,"y":2.1},{"s":"e6","d":1,"x":806,"y":2.55},{"s":"e6","d":1,"x":825,"y":2.95},{"s":"e6","d":1,"x":844,"y":3.1},{"s":"e6","d":1,"x":862,"y":3.08},{"s":"e6","d":1,"x":883,"y":2.97},{"s":"e6","d":1,"x":902,"y":2.9},{"s":"e6","d":1,"x":925,"y":2.86},
{"s":"e7","d":2,"x":772,"y":1.33},{"s":"e7","d":2,"x":790,"y":1.58},{"s":"e7","d":2,"x":806,"y":1.72},{"s":"e7","d":2,"x":829,"y":1.85},{"s":"e7","d":2,"x":852,"y":1.78},{"s":"e7","d":2,"x":883,"y":1.49},{"s":"e7","d":2,"x":905,"y":1.3},{"s":"e7","d":2,"x":925,"y":1.14},
{"s":"e8","d":1,"x":772,"y":1.28},{"s":"e8","d":1,"x":790,"y":1.0},{"s":"e8","d":1,"x":810,"y":0.7},{"s":"e8","d":1,"x":830,"y":0.48},{"s":"e8","d":1,"x":848,"y":0.4},{"s":"e8","d":1,"x":865,"y":0.45},{"s":"e8","d":1,"x":883,"y":0.7},{"s":"e8","d":1,"x":905,"y":0.95},{"s":"e8","d":1,"x":925,"y":1.14},
{"s":"e9","d":1,"x":772,"y":0.43},{"s":"e9","d":1,"x":806,"y":0.5},{"s":"e9","d":1,"x":844,"y":0.7},{"s":"e9","d":1,"x":883,"y":0.93},{"s":"e9","d":1,"x":925,"y":1.14},
{"s":"e10","d":1,"x":772,"y":1.03},{"s":"e10","d":1,"x":825,"y":1.05},{"s":"e10","d":1,"x":864,"y":1.06},{"s":"e10","d":1,"x":902,"y":0.96},{"s":"e10","d":1,"x":925,"y":0.85},
{"s":"e11","d":2,"x":772,"y":1.25},{"s":"e11","d":2,"x":790,"y":0.95},{"s":"e11","d":2,"x":806,"y":0.7},{"s":"e11","d":2,"x":822,"y":0.45},{"s":"e11","d":2,"x":840,"y":0.15},{"s":"e11","d":2,"x":852,"y":0.0},{"s":"e11","d":2,"x":870,"y":-0.2},{"s":"e11","d":2,"x":895,"y":-0.47},{"s":"e11","d":2,"x":925,"y":-0.74},
{"s":"e12","d":1,"x":772,"y":-0.51},{"s":"e12","d":1,"x":806,"y":-0.53},{"s":"e12","d":1,"x":825,"y":-0.61},{"s":"e12","d":1,"x":845,"y":-0.8},{"s":"e12","d":1,"x":868,"y":-1.22},{"s":"e12","d":1,"x":894,"y":-1.7},{"s":"e12","d":1,"x":925,"y":-2.28},
{"s":"e13","d":2,"x":772,"y":-1.53},{"s":"e13","d":2,"x":806,"y":-1.5},{"s":"e13","d":2,"x":845,"y":-1.34},{"s":"e13","d":2,"x":883,"y":-1.06},{"s":"e13","d":2,"x":925,"y":-0.74},
{"s":"e14","d":1,"x":772,"y":-3.74},{"s":"e14","d":1,"x":806,"y":-3.65},{"s":"e14","d":1,"x":825,"y":-3.49},{"s":"e14","d":1,"x":845,"y":-3.2},{"s":"e14","d":1,"x":868,"y":-2.88},{"s":"e14","d":1,"x":894,"y":-2.56},{"s":"e14","d":1,"x":925,"y":-2.28},
{"s":"e15","d":2,"x":772,"y":-3.95},{"s":"e15","d":2,"x":837,"y":-3.97},{"s":"e15","d":2,"x":925,"y":-4.02},
{"s":"e16","d":1,"x":772,"y":-4.07},{"s":"e16","d":1,"x":837,"y":-4.05},{"s":"e16","d":1,"x":925,"y":-4.02},
{"s":"e17","d":2,"x":772,"y":-4.17},{"s":"e17","d":2,"x":837,"y":-4.18},{"s":"e17","d":2,"x":887,"y":-4.25},{"s":"e17","d":2,"x":925,"y":-4.37},
{"s":"e18","d":1,"x":772,"y":-4.3},{"s":"e18","d":1,"x":837,"y":-4.31},{"s":"e18","d":1,"x":925,"y":-4.37},
{"s":"e19","d":2,"x":772,"y":-4.45},{"s":"e19","d":2,"x":837,"y":-4.44},{"s":"e19","d":2,"x":925,"y":-4.37},
{"s":"e20","d":1,"x":772,"y":-4.94},{"s":"e20","d":1,"x":803,"y":-4.9},{"s":"e20","d":1,"x":837,"y":-4.75},{"s":"e20","d":1,"x":880,"y":-4.55},{"s":"e20","d":1,"x":925,"y":-4.37},
{"s":"f1","d":2,"x":925,"y":4.56},{"s":"f1","d":2,"x":965,"y":4.6},{"s":"f1","d":2,"x":1000,"y":4.65},{"s":"f1","d":2,"x":1021,"y":4.66},{"s":"f1","d":2,"x":1050,"y":4.6},{"s":"f1","d":2,"x":1085,"y":4.42},{"s":"f1","d":2,"x":1112,"y":4.25},{"s":"f1","d":2,"x":1118,"y":4.26},{"s":"f1","d":2,"x":1143,"y":4.55},{"s":"f1","d":2,"x":1170,"y":4.85},{"s":"f1","d":2,"x":1190,"y":5.05},{"s":"f1","d":2,"x":1195,"y":5.2},
{"s":"f2","d":2,"x":925,"y":4.56},{"s":"f2","d":2,"x":952,"y":4.42},{"s":"f2","d":2,"x":990,"y":4.28},{"s":"f2","d":2,"x":1028,"y":4.39},{"s":"f2","d":2,"x":1040,"y":4.37},{"s":"f2","d":2,"x":1086,"y":4.04},{"s":"f2","d":2,"x":1105,"y":4.13},{"s":"f2","d":2,"x":1113,"y":4.19},{"s":"f2","d":2,"x":1120,"y":4.19},{"s":"f2","d":2,"x":1143,"y":4.0},{"s":"f2","d":2,"x":1181,"y":3.73},{"s":"f2","d":2,"x":1207,"y":3.65},{"s":"f2","d":2,"x":1239,"y":3.65},{"s":"f2","d":2,"x":1277,"y":3.63},{"s":"f2","d":2,"x":1312,"y":3.6},{"s":"f2","d":2,"x":1335,"y":3.8},{"s":"f2","d":2,"x":1370,"y":4.04},{"s":"f2","d":2,"x":1411,"y":3.94},{"s":"f2","d":2,"x":1443,"y":4.08},{"s":"f2","d":2,"x":1462,"y":4.19},{"s":"f2","d":2,"x":1481,"y":4.13},{"s":"f2","d":2,"x":1525,"y":3.98},{"s":"f2","d":2,"x":1555,"y":4.09},{"s":"f2","d":2,"x":1592,"y":4.29},{"s":"f2","d":2,"x":1610,"y":4.3},{"s":"f2","d":2,"x":1629,"y":4.26},{"s":"f2","d":2,"x":1666,"y":4.42},{"s":"f2","d":2,"x":1695,"y":4.54},
{"s":"f3","d":2,"x":925,"y":2.86},{"s":"f3","d":2,"x":952,"y":2.91},{"s":"f3","d":2,"x":990,"y":3.08},{"s":"f3","d":2,"x":1028,"y":3.12},{"s":"f3","d":2,"x":1048,"y":3.17},{"s":"f3","d":2,"x":1082,"y":3.3},{"s":"f3","d":2,"x":1097,"y":3.24},{"s":"f3","d":2,"x":1124,"y":2.94},{"s":"f3","d":2,"x":1162,"y":2.61},{"s":"f3","d":2,"x":1189,"y":2.49},{"s":"f3","d":2,"x":1207,"y":2.48},{"s":"f3","d":2,"x":1231,"y":2.48},{"s":"f3","d":2,"x":1258,"y":2.61},{"s":"f3","d":2,"x":1281,"y":2.87},{"s":"f3","d":2,"x":1315,"y":3.34},{"s":"f3","d":2,"x":1335,"y":3.37},{"s":"f3","d":2,"x":1370,"y":3.3},{"s":"f3","d":2,"x":1411,"y":3.39},{"s":"f3","d":2,"x":1443,"y":3.27},{"s":"f3","d":2,"x":1470,"y":3.05},{"s":"f3","d":2,"x":1503,"y":2.86},{"s":"f3","d":2,"x":1510,"y":2.86},{"s":"f3","d":2,"x":1547,"y":3.07},{"s":"f3","d":2,"x":1599,"y":3.15},{"s":"f3","d":2,"x":1629,"y":3.11},{"s":"f3","d":2,"x":1666,"y":2.9},{"s":"f3","d":2,"x":1695,"y":2.85},
{"s":"f4","d":2,"x":925,"y":1.14},{"s":"f4","d":2,"x":959,"y":1.16},{"s":"f4","d":2,"x":1009,"y":1.33},{"s":"f4","d":2,"x":1067,"y":1.66},{"s":"f4","d":2,"x":1136,"y":2.03},{"s":"f4","d":2,"x":1181,"y":2.31},{"s":"f4","d":2,"x":1207,"y":2.35},{"s":"f4","d":2,"x":1231,"y":2.35},{"s":"f4","d":2,"x":1258,"y":2.28},{"s":"f4","d":2,"x":1273,"y":2.26},{"s":"f4","d":2,"x":1296,"y":2.44},{"s":"f4","d":2,"x":1335,"y":2.68},{"s":"f4","d":2,"x":1370,"y":2.85},{"s":"f4","d":2,"x":1392,"y":2.74},{"s":"f4","d":2,"x":1420,"y":2.5},{"s":"f4","d":2,"x":1443,"y":2.35},{"s":"f4","d":2,"x":1455,"y":2.37},{"s":"f4","d":2,"x":1503,"y":2.75},{"s":"f4","d":2,"x":1510,"y":2.75},{"s":"f4","d":2,"x":1554,"y":2.42},{"s":"f4","d":2,"x":1599,"y":1.92},{"s":"f4","d":2,"x":1647,"y":1.33},{"s":"f4","d":2,"x":1666,"y":1.19},{"s":"f4","d":2,"x":1695,"y":1.14},
{"s":"f5","d":2,"x":925,"y":1.14},{"s":"f5","d":2,"x":960,"y":1.21},{"s":"f5","d":2,"x":990,"y":1.56},{"s":"f5","d":2,"x":1021,"y":1.95},{"s":"f5","d":2,"x":1048,"y":2.15},{"s":"f5","d":2,"x":1074,"y":2.21},{"s":"f5","d":2,"x":1105,"y":2.15},{"s":"f5","d":2,"x":1139,"y":2.02},{"s":"f5","d":2,"x":1174,"y":1.85},{"s":"f5","d":2,"x":1207,"y":1.77},{"s":"f5","d":2,"x":1239,"y":1.92},{"s":"f5","d":2,"x":1270,"y":2.1},{"s":"f5","d":2,"x":1281,"y":2.08},{"s":"f5","d":2,"x":1315,"y":1.89},{"s":"f5","d":2,"x":1370,"y":1.7},{"s":"f5","d":2,"x":1411,"y":1.79},{"s":"f5","d":2,"x":1442,"y":1.92},{"s":"f5","d":2,"x":1461,"y":1.85},{"s":"f5","d":2,"x":1481,"y":1.59},{"s":"f5","d":2,"x":1518,"y":1.26},{"s":"f5","d":2,"x":1555,"y":1.06},{"s":"f5","d":2,"x":1584,"y":1.01},{"s":"f5","d":2,"x":1629,"y":1.08},{"s":"f5","d":2,"x":1695,"y":1.14},
{"s":"f6","d":2,"x":925,"y":0.86},{"s":"f6","d":2,"x":960,"y":0.95},{"s":"f6","d":2,"x":1009,"y":0.66},{"s":"f6","d":2,"x":1067,"y":0.37},{"s":"f6","d":2,"x":1120,"y":0.27},{"s":"f6","d":2,"x":1181,"y":0.39},{"s":"f6","d":2,"x":1207,"y":0.4},{"s":"f6","d":2,"x":1258,"y":0.53},{"s":"f6","d":2,"x":1315,"y":0.67},{"s":"f6","d":2,"x":1370,"y":0.72},{"s":"f6","d":2,"x":1411,"y":0.68},{"s":"f6","d":2,"x":1443,"y":0.65},{"s":"f6","d":2,"x":1481,"y":0.68},{"s":"f6","d":2,"x":1536,"y":0.83},{"s":"f6","d":2,"x":1584,"y":0.91},{"s":"f6","d":2,"x":1651,"y":0.97},{"s":"f6","d":2,"x":1673,"y":0.9},{"s":"f6","d":2,"x":1695,"y":0.86},
{"s":"f7","d":2,"x":1369,"y":5.2},{"s":"f7","d":2,"x":1385,"y":4.95},{"s":"f7","d":2,"x":1411,"y":4.72},{"s":"f7","d":2,"x":1440,"y":4.52},{"s":"f7","d":2,"x":1461,"y":4.42},{"s":"f7","d":2,"x":1481,"y":4.59},{"s":"f7","d":2,"x":1500,"y":4.8},{"s":"f7","d":2,"x":1525,"y":5.05},{"s":"f7","d":2,"x":1530,"y":5.2},
{"s":"f8","d":2,"x":1300,"y":5.2},{"s":"f8","d":2,"x":1320,"y":4.99},{"s":"f8","d":2,"x":1340,"y":5.0},{"s":"f8","d":2,"x":1355,"y":5.2},
{"s":"f9","d":2,"x":1550,"y":5.2},{"s":"f9","d":2,"x":1555,"y":5.05},{"s":"f9","d":2,"x":1592,"y":4.69},{"s":"f9","d":2,"x":1610,"y":4.64},{"s":"f9","d":2,"x":1647,"y":4.61},{"s":"f9","d":2,"x":1684,"y":4.56},{"s":"f9","d":2,"x":1695,"y":4.56},
{"s":"f10","d":2,"x":925,"y":-0.74},{"s":"f10","d":2,"x":952,"y":-0.75},{"s":"f10","d":2,"x":1009,"y":-0.96},{"s":"f10","d":2,"x":1097,"y":-1.36},{"s":"f10","d":2,"x":1162,"y":-1.58},{"s":"f10","d":2,"x":1207,"y":-1.63},{"s":"f10","d":2,"x":1231,"y":-1.7},{"s":"f10","d":2,"x":1277,"y":-2.18},{"s":"f10","d":2,"x":1315,"y":-2.62},{"s":"f10","d":2,"x":1346,"y":-2.82},{"s":"f10","d":2,"x":1370,"y":-2.88},{"s":"f10","d":2,"x":1411,"y":-2.72},{"s":"f10","d":2,"x":1443,"y":-2.53},{"s":"f10","d":2,"x":1468,"y":-2.3},{"s":"f10","d":2,"x":1518,"y":-1.92},{"s":"f10","d":2,"x":1573,"y":-1.57},{"s":"f10","d":2,"x":1610,"y":-1.34},{"s":"f10","d":2,"x":1647,"y":-1.06},{"s":"f10","d":2,"x":1673,"y":-0.83},{"s":"f10","d":2,"x":1695,"y":-0.74},
{"s":"f11","d":2,"x":925,"y":-0.74},{"s":"f11","d":2,"x":971,"y":-0.96},{"s":"f11","d":2,"x":1009,"y":-1.28},{"s":"f11","d":2,"x":1048,"y":-1.38},{"s":"f11","d":2,"x":1094,"y":-1.36},{"s":"f11","d":2,"x":1143,"y":-1.28},{"s":"f11","d":2,"x":1207,"y":-1.26},{"s":"f11","d":2,"x":1258,"y":-1.23},{"s":"f11","d":2,"x":1370,"y":-1.25},{"s":"f11","d":2,"x":1449,"y":-1.2},{"s":"f11","d":2,"x":1514,"y":-1.18},{"s":"f11","d":2,"x":1554,"y":-1.18},{"s":"f11","d":2,"x":1592,"y":-1.09},{"s":"f11","d":2,"x":1629,"y":-0.93},{"s":"f11","d":2,"x":1666,"y":-0.77},{"s":"f11","d":2,"x":1695,"y":-0.74},
{"s":"f12","d":2,"x":925,"y":-2.28},{"s":"f12","d":2,"x":990,"y":-2.37},{"s":"f12","d":2,"x":1048,"y":-2.72},{"s":"f12","d":2,"x":1105,"y":-3.2},{"s":"f12","d":2,"x":1162,"y":-3.65},{"s":"f12","d":2,"x":1207,"y":-3.81},{"s":"f12","d":2,"x":1277,"y":-3.81},{"s":"f12","d":2,"x":1370,"y":-3.76},{"s":"f12","d":2,"x":1411,"y":-3.76},{"s":"f12","d":2,"x":1443,"y":-3.71},{"s":"f12","d":2,"x":1470,"y":-3.55},{"s":"f12","d":2,"x":1499,"y":-3.4},{"s":"f12","d":2,"x":1520,"y":-3.22},{"s":"f12","d":2,"x":1554,"y":-2.95},{"s":"f12","d":2,"x":1603,"y":-2.5},{"s":"f12","d":2,"x":1636,"y":-2.34},{"s":"f12","d":2,"x":1666,"y":-2.28},{"s":"f12","d":2,"x":1695,"y":-2.28},
{"s":"f13","d":2,"x":925,"y":-4.02},{"s":"f13","d":2,"x":1028,"y":-3.99},{"s":"f13","d":2,"x":1143,"y":-3.94},{"s":"f13","d":2,"x":1207,"y":-3.97},{"s":"f13","d":2,"x":1277,"y":-3.92},{"s":"f13","d":2,"x":1370,"y":-3.9},{"s":"f13","d":2,"x":1447,"y":-3.9},{"s":"f13","d":2,"x":1534,"y":-3.95},{"s":"f13","d":2,"x":1600,"y":-3.97},{"s":"f13","d":2,"x":1695,"y":-4.02},
{"s":"f14","d":2,"x":925,"y":-4.02},{"s":"f14","d":2,"x":1207,"y":-3.97},{"s":"f14","d":2,"x":1277,"y":-4.0},{"s":"f14","d":2,"x":1370,"y":-4.05},{"s":"f14","d":2,"x":1447,"y":-4.0},{"s":"f14","d":2,"x":1534,"y":-3.99},{"s":"f14","d":2,"x":1600,"y":-4.0},{"s":"f14","d":2,"x":1695,"y":-4.02},
{"s":"f15","d":2,"x":925,"y":-4.37},{"s":"f15","d":2,"x":1028,"y":-4.21},{"s":"f15","d":2,"x":1207,"y":-4.15},{"s":"f15","d":2,"x":1280,"y":-4.13},{"s":"f15","d":2,"x":1334,"y":-4.19},{"s":"f15","d":2,"x":1370,"y":-4.2},{"s":"f15","d":2,"x":1447,"y":-4.11},{"s":"f15","d":2,"x":1534,"y":-4.17},{"s":"f15","d":2,"x":1592,"y":-4.23},{"s":"f15","d":2,"x":1695,"y":-4.37},
{"s":"f16","d":2,"x":925,"y":-4.37},{"s":"f16","d":2,"x":1028,"y":-4.24},{"s":"f16","d":2,"x":1207,"y":-4.17},{"s":"f16","d":2,"x":1370,"y":-4.25},{"s":"f16","d":2,"x":1447,"y":-4.23},{"s":"f16","d":2,"x":1534,"y":-4.27},{"s":"f16","d":2,"x":1592,"y":-4.31},{"s":"f16","d":2,"x":1695,"y":-4.37},
{"s":"f17","d":2,"x":925,"y":-4.37},{"s":"f17","d":2,"x":1014,"y":-4.55},{"s":"f17","d":2,"x":1047,"y":-4.67},{"s":"f17","d":2,"x":1143,"y":-4.87},{"s":"f17","d":2,"x":1207,"y":-4.97},{"s":"f17","d":2,"x":1277,"y":-4.77},{"s":"f17","d":2,"x":1370,"y":-4.54},{"s":"f17","d":2,"x":1443,"y":-4.71},{"s":"f17","d":2,"x":1481,"y":-4.77},{"s":"f17","d":2,"x":1534,"y":-4.72},{"s":"f17","d":2,"x":1555,"y":-4.64},{"s":"f17","d":2,"x":1695,"y":-4.37},
{"s":"g1","d":1,"x":1695,"y":5.2},{"s":"g1","d":1,"x":1700,"y":5.0},{"s":"g1","d":1,"x":1721,"y":4.88},{"s":"g1","d":1,"x":1758,"y":4.73},{"s":"g1","d":1,"x":1784,"y":4.78},{"s":"g1","d":1,"x":1806,"y":5.0},{"s":"g1","d":1,"x":1810,"y":5.2},
{"s":"g2","d":1,"x":1695,"y":3.65},{"s":"g2","d":1,"x":1721,"y":3.9},{"s":"g2","d":1,"x":1758,"y":4.36},{"s":"g2","d":1,"x":1795,"y":4.85},{"s":"g2","d":1,"x":1806,"y":5.05},{"s":"g2","d":1,"x":1810,"y":5.2},
{"s":"g3","d":1,"x":1695,"y":3.65},{"s":"g3","d":1,"x":1721,"y":3.43},{"s":"g3","d":1,"x":1762,"y":3.16},{"s":"g3","d":1,"x":1795,"y":3.04},{"s":"g3","d":1,"x":1848,"y":2.96},
{"s":"g4","d":1,"x":1695,"y":2.48},{"s":"g4","d":1,"x":1721,"y":2.51},{"s":"g4","d":1,"x":1740,"y":2.64},{"s":"g4","d":1,"x":1765,"y":3.13},{"s":"g4","d":1,"x":1795,"y":3.53},{"s":"g4","d":1,"x":1814,"y":3.63},{"s":"g4","d":1,"x":1848,"y":3.69},
{"s":"g5","d":1,"x":1695,"y":2.49},{"s":"g5","d":1,"x":1740,"y":2.7},{"s":"g5","d":1,"x":1777,"y":2.88},{"s":"g5","d":1,"x":1814,"y":2.94},{"s":"g5","d":1,"x":1848,"y":2.91},
{"s":"g6","d":1,"x":1695,"y":2.35},{"s":"g6","d":1,"x":1740,"y":2.5},{"s":"g6","d":1,"x":1777,"y":2.59},{"s":"g6","d":1,"x":1814,"y":2.64},{"s":"g6","d":1,"x":1848,"y":2.65},
{"s":"g7","d":1,"x":1695,"y":2.35},{"s":"g7","d":1,"x":1740,"y":2.21},{"s":"g7","d":1,"x":1795,"y":2.08},{"s":"g7","d":1,"x":1848,"y":2.05},
{"s":"g8","d":1,"x":1695,"y":1.75},{"s":"g8","d":1,"x":1728,"y":2.02},{"s":"g8","d":1,"x":1758,"y":1.96},{"s":"g8","d":1,"x":1795,"y":1.85},{"s":"g8","d":1,"x":1848,"y":1.8},
{"s":"g9","d":1,"x":1695,"y":1.75},{"s":"g9","d":1,"x":1712,"y":1.62},{"s":"g9","d":1,"x":1725,"y":1.59},{"s":"g9","d":1,"x":1740,"y":1.62},{"s":"g9","d":1,"x":1777,"y":1.98},{"s":"g9","d":1,"x":1814,"y":2.41},{"s":"g9","d":1,"x":1848,"y":2.55},
{"s":"g10","d":1,"x":1695,"y":0.4},{"s":"g10","d":1,"x":1740,"y":0.8},{"s":"g10","d":1,"x":1777,"y":1.16},{"s":"g10","d":1,"x":1814,"y":1.23},{"s":"g10","d":1,"x":1848,"y":1.24},
{"s":"g11","d":1,"x":1695,"y":0.4},{"s":"g11","d":1,"x":1721,"y":0.18},{"s":"g11","d":1,"x":1743,"y":0.0},{"s":"g11","d":1,"x":1777,"y":-0.29},{"s":"g11","d":1,"x":1814,"y":-0.45},{"s":"g11","d":1,"x":1848,"y":-0.54},
{"s":"g12","d":1,"x":1695,"y":-1.26},{"s":"g12","d":1,"x":1729,"y":-1.14},{"s":"g12","d":1,"x":1758,"y":-1.28},{"s":"g12","d":1,"x":1814,"y":-1.86},{"s":"g12","d":1,"x":1848,"y":-1.94},
{"s":"g13","d":1,"x":1695,"y":-1.26},{"s":"g13","d":1,"x":1732,"y":-1.54},{"s":"g13","d":1,"x":1758,"y":-1.79},{"s":"g13","d":1,"x":1795,"y":-2.11},{"s":"g13","d":1,"x":1848,"y":-2.3},
{"s":"g14","d":1,"x":1695,"y":-1.63},{"s":"g14","d":1,"x":1740,"y":-1.47},{"s":"g14","d":1,"x":1777,"y":-1.34},{"s":"g14","d":1,"x":1848,"y":-1.23},
{"s":"g15","d":1,"x":1695,"y":-1.63},{"s":"g15","d":1,"x":1740,"y":-1.79},{"s":"g15","d":1,"x":1777,"y":-1.89},{"s":"g15","d":1,"x":1848,"y":-1.95},
{"s":"g16","d":1,"x":1695,"y":-3.82},{"s":"g16","d":1,"x":1740,"y":-3.78},{"s":"g16","d":1,"x":1814,"y":-3.75},{"s":"g16","d":1,"x":1848,"y":-3.74},
{"s":"g17","d":1,"x":1695,"y":-3.82},{"s":"g17","d":1,"x":1758,"y":-3.68},{"s":"g17","d":1,"x":1814,"y":-3.43},{"s":"g17","d":1,"x":1848,"y":-3.35},
{"s":"g18","d":2,"x":1695,"y":-3.97},{"s":"g18","d":2,"x":1848,"y":-3.97},
{"s":"g19","d":1,"x":1695,"y":-3.97},{"s":"g19","d":1,"x":1770,"y":-3.99},{"s":"g19","d":1,"x":1848,"y":-4.03},
{"s":"g20","d":2,"x":1695,"y":-4.16},{"s":"g20","d":2,"x":1848,"y":-4.13},
{"s":"g21","d":1,"x":1695,"y":-4.16},{"s":"g21","d":1,"x":1770,"y":-4.1},{"s":"g21","d":1,"x":1848,"y":-4.03},
{"s":"g22","d":1,"x":1695,"y":-4.96},{"s":"g22","d":1,"x":1740,"y":-4.74},{"s":"g22","d":1,"x":1795,"y":-4.48},{"s":"g22","d":1,"x":1848,"y":-4.43},
{"s":"h1","d":2,"x":1848,"y":3.81},{"s":"h1","d":2,"x":1888,"y":3.77},{"s":"h1","d":2,"x":1925,"y":3.73},{"s":"h1","d":2,"x":1961,"y":3.89},{"s":"h1","d":2,"x":2000,"y":4.04},
{"s":"h2","d":2,"x":1848,"y":3.24},{"s":"h2","d":2,"x":1888,"y":3.3},{"s":"h2","d":2,"x":1935,"y":3.44},{"s":"h2","d":2,"x":1961,"y":3.4},{"s":"h2","d":2,"x":2000,"y":3.3},
{"s":"h3","d":2,"x":1848,"y":1.98},{"s":"h3","d":2,"x":1869,"y":2.05},{"s":"h3","d":2,"x":1925,"y":2.45},{"s":"h3","d":2,"x":1980,"y":2.81},{"s":"h3","d":2,"x":2000,"y":2.85},
{"s":"h4","d":1,"x":1848,"y":1.69},{"s":"h4","d":1,"x":1888,"y":1.85},{"s":"h4","d":1,"x":1939,"y":2.02},{"s":"h4","d":1,"x":1969,"y":1.92},{"s":"h4","d":1,"x":2000,"y":1.7},
{"s":"h5","d":2,"x":1848,"y":1.69},{"s":"h5","d":2,"x":1888,"y":1.36},{"s":"h5","d":2,"x":1925,"y":1.1},{"s":"h5","d":2,"x":1961,"y":0.83},{"s":"h5","d":2,"x":2000,"y":0.71},
{"s":"h6","d":1,"x":1848,"y":0.85},{"s":"h6","d":1,"x":1888,"y":0.91},{"s":"h6","d":1,"x":1925,"y":1.1},{"s":"h6","d":1,"x":1961,"y":1.39},{"s":"h6","d":1,"x":2000,"y":1.7},
{"s":"h7","d":1,"x":1917,"y":5.2},{"s":"h7","d":1,"x":1925,"y":5.0},{"s":"h7","d":1,"x":1935,"y":4.95},{"s":"h7","d":1,"x":1945,"y":5.0},{"s":"h7","d":1,"x":1954,"y":5.2},
{"s":"h8","d":2,"x":1848,"y":-1.39},{"s":"h8","d":2,"x":1869,"y":-1.41},{"s":"h8","d":2,"x":1906,"y":-1.66},{"s":"h8","d":2,"x":1943,"y":-2.08},{"s":"h8","d":2,"x":2000,"y":-2.88},
{"s":"h9","d":2,"x":1848,"y":-1.79},{"s":"h9","d":2,"x":1888,"y":-1.7},{"s":"h9","d":2,"x":1924,"y":-1.5},{"s":"h9","d":2,"x":1961,"y":-1.31},{"s":"h9","d":2,"x":2000,"y":-1.25},
{"s":"h10","d":1,"x":1848,"y":-3.73},{"s":"h10","d":1,"x":1888,"y":-3.65},{"s":"h10","d":1,"x":1943,"y":-3.36},{"s":"h10","d":1,"x":2000,"y":-2.88},
{"s":"h11","d":2,"x":1848,"y":-3.75},{"s":"h11","d":2,"x":2000,"y":-3.76},
{"s":"h12","d":2,"x":1848,"y":-3.92},{"s":"h12","d":2,"x":2000,"y":-3.89},
{"s":"h13","d":2,"x":1848,"y":-4.0},{"s":"h13","d":2,"x":2000,"y":-4.05},
{"s":"h14","d":2,"x":1848,"y":-4.08},{"s":"h14","d":2,"x":1888,"y":-4.13},{"s":"h14","d":2,"x":1925,"y":-4.19},{"s":"h14","d":2,"x":2000,"y":-4.22},
{"s":"h15","d":1,"x":1848,"y":-4.24},{"s":"h15","d":1,"x":2000,"y":-4.24},
{"s":"h16","d":1,"x":1848,"y":-4.43},{"s":"h16","d":1,"x":1925,"y":-4.35},{"s":"h16","d":1,"x":2000,"y":-4.24},
{"s":"h17","d":2,"x":1848,"y":-4.43},{"s":"h17","d":2,"x":1925,"y":-4.47},{"s":"h17","d":2,"x":2000,"y":-4.53}
]},
"layer":[
{"data":{"name":"bands"},
 "mark":{"type":"line","interpolate":"monotone","strokeWidth":3.7,"color":"#1f77b4","clip":true},
 "encoding":{
  "x":{"field":"x","type":"quantitative","scale":{"domain":[0,2000],"nice":false,"zero":false},
   "axis":{"values":[0,283,446,772,925,1207,1370,1695,1848,2000],
    "labelExpr":"datum.value<100?'Γ':datum.value<300?'M':datum.value<500?'K':datum.value<800?'Γ':datum.value<1000?'A':datum.value<1250?'L':datum.value<1400?'H':datum.value<1700?'A/L':datum.value<1900?'M/K':'H'",
    "title":null,"grid":false,"domain":false,"ticks":true,"tickColor":"black","tickWidth":2,"tickSize":8,
    "labelFont":"Liberation Serif","labelFontSize":42,"labelColor":"black","labelPadding":18,
    "labelOverlap":false,"labelBound":false,"labelFlush":false}},
  "y":{"field":"y","type":"quantitative","scale":{"domain":[-5,5],"nice":false,"zero":false},
   "axis":{"values":[-4,-3,-2,-1,0,1,2,3,4],
    "labelExpr":"datum.value%2!=0?'':(datum.value<0?'-'+abs(datum.value):''+datum.value)",
    "title":"Energy [eV]","titleFont":"Liberation Serif","titleFontSize":41,"titleFontWeight":"normal","titleColor":"black","titlePadding":43,
    "grid":false,"domain":false,"tickColor":"black","tickWidth":2,"tickSize":8,
    "labelFont":"Liberation Serif","labelFontSize":38,"labelColor":"black","labelPadding":8}},
  "detail":{"field":"s","type":"nominal"},
  "opacity":{"field":"d","type":"nominal","scale":{"domain":[1,2],"range":[0.8,0.97]},"legend":null}
 }},
{"data":{"name":"jumps"},
 "mark":{"type":"rule","color":"#1f77b4","strokeWidth":3.7,"opacity":0.97,"clip":true},
 "encoding":{"x":{"field":"x","type":"quantitative"},"y":{"field":"y","type":"quantitative"},"y2":{"field":"y2"}}},
{"data":{"name":"kp"},
 "mark":{"type":"rule","color":"black","strokeWidth":2,"opacity":0.45},
 "encoding":{"x":{"field":"x","type":"quantitative"}}}
]
}
